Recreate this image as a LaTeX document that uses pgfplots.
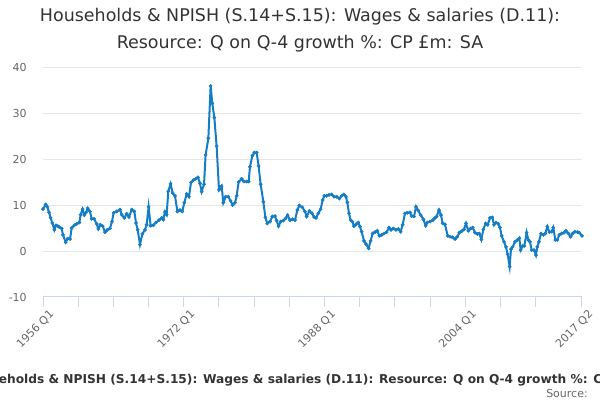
\documentclass[border=0pt]{standalone}
\usepackage{pgfplots}
\pgfplotsset{compat=1.18}
\usepackage{fontspec}
\setmainfont{DejaVu Sans}
\definecolor{line}{RGB}{20,125,196}
\definecolor{titlec}{RGB}{51,51,51}
\definecolor{tickc}{RGB}{102,102,102}
\definecolor{axisc}{RGB}{204,214,235}
\definecolor{gridc}{RGB}{230,230,230}
\begin{document}
\begin{tikzpicture}
\useasboundingbox (0,0) rectangle (450pt,300pt);
\begin{axis}[
  at={(32.25pt,77.25pt)}, anchor=south west,
  scale only axis, width=404.25pt, height=172.5pt,
  xmin=1956, xmax=2017.25, ymin=-10, ymax=40,
  axis x line*=bottom, axis y line*=left,
  x axis line style={draw=axisc, line width=0.75pt, -},
  y axis line style={draw=none},
  ytick={-10,0,10,20,30,40},
  ymajorgrids, grid style={draw=gridc, line width=0.75pt},
  xtick={1956,1960,1964,1968,1972,1976,1980,1984,1988,1992,1996,2000,2004,2008,2012,2017.25},
  xticklabels={1956 Q1,,,,1972 Q1,,,,1988 Q1,,,,2004 Q1,,,2017 Q2},
  xtick style={draw=axisc, line width=0.75pt},
  tick align=outside, major tick length=7.5pt,
  ytick style={draw=none},
  /pgf/number format/assume math mode=true,
  yticklabel style={font=\fontsize{8.25}{10}\selectfont, text=tickc, anchor=east, inner sep=0pt, xshift=-4.5pt},
  xticklabel style={font=\fontsize{8.25}{10}\selectfont, text=tickc, rotate=45, anchor=north east, inner sep=0pt, yshift=-4pt, xshift=2pt},
  clip=false,
]
\addplot[color=line, line width=1.5pt, mark=*, mark size=1.25pt, mark options={solid, fill=line, draw=line, line width=0.3pt}] coordinates {
(1956.00,9.1)(1956.30,10.1)(1956.49,9.6)(1956.68,8.4)(1956.87,7.2)(1957.06,6.1)(1957.29,4.6)(1957.48,5.6)(1957.70,5.4)(1957.86,5.2)
(1958.12,4.9)(1958.27,3.5)(1958.58,1.9)(1958.80,2.7)(1959.07,2.6)(1959.26,5.0)(1959.56,5.6)(1959.83,5.9)(1960.13,6.2)(1960.28,7.9)
(1960.50,9.1)(1960.70,7.8)(1960.90,8.4)(1961.08,9.3)(1961.34,8.6)(1961.53,7.0)(1961.80,7.0)(1962.10,5.9)(1962.29,4.8)(1962.52,5.7)
(1962.78,5.4)(1963.05,4.1)(1963.31,4.6)(1963.61,4.9)(1963.84,6.4)(1964.03,8.3)(1964.37,8.6)(1964.75,9.0)(1964.94,7.9)(1965.24,7.2)
(1965.51,8.1)(1965.77,7.4)(1966.08,9.0)(1966.38,8.6)(1966.57,6.1)(1966.76,4.6)(1967.02,1.4)(1967.29,3.7)(1967.59,4.6)(1967.78,5.7)
(1968.00,9.6)(1968.23,5.5)(1968.54,5.6)(1968.84,6.2)(1969.18,6.7)(1969.49,7.2)(1969.67,6.8)(1969.86,8.5)(1970.05,7.9)(1970.24,13.0)
(1970.50,14.6)(1970.73,12.6)(1971.00,12.0)(1971.27,8.6)(1971.57,8.9)(1971.83,8.6)(1972.06,10.5)(1972.33,12.4)(1972.59,11.8)(1972.82,14.9)
(1973.08,15.4)(1973.35,15.7)(1973.61,16.0)(1973.84,14.7)(1974.03,12.9)(1974.30,14.5)(1974.48,20.9)(1974.79,24.5)(1975.05,35.9)(1975.24,32.1)
(1975.47,29.0)(1975.73,22.8)(1976.00,13.3)(1976.30,14.1)(1976.49,10.5)(1976.76,11.8)(1977.06,11.8)(1977.32,10.9)(1977.55,10.0)(1977.82,10.5)
(1978.01,12.0)(1978.23,15.0)(1978.57,15.7)(1978.84,15.1)(1979.14,15.1)(1979.37,15.1)(1979.52,18.3)(1979.79,20.7)(1980.01,21.4)(1980.28,21.4)
(1980.50,18.5)(1980.73,14.5)(1981.04,10.7)(1981.27,7.3)(1981.49,6.0)(1981.80,6.4)(1982.06,7.5)(1982.36,7.6)(1982.55,6.6)(1982.77,5.4)
(1983.01,6.4)(1983.31,6.6)(1983.57,7.1)(1983.80,7.8)(1984.07,6.7)(1984.37,6.9)(1984.64,6.7)(1984.90,8.9)(1985.13,9.9)(1985.47,9.5)
(1985.77,8.6)(1985.96,7.5)(1986.27,8.7)(1986.57,8.2)(1986.80,7.4)(1987.02,7.2)(1987.29,8.2)(1987.55,9.1)(1987.78,11.1)(1987.97,12.0)
(1988.23,12.0)(1988.50,12.2)(1988.80,12.3)(1989.07,11.8)(1989.37,11.8)(1989.67,11.4)(1989.94,12.0)(1990.20,12.3)(1990.43,11.8)(1990.58,10.6)
(1990.77,8.2)(1990.96,6.7)(1991.15,6.4)(1991.34,5.4)(1991.57,5.8)(1991.83,6.2)(1992.02,5.3)(1992.21,4.2)(1992.48,2.2)(1992.70,1.5)
(1993.00,0.6)(1993.23,2.2)(1993.46,3.8)(1993.73,4.1)(1993.99,4.4)(1994.22,3.3)(1994.49,3.5)(1994.75,3.8)(1995.05,4.1)(1995.32,5.1)
(1995.55,4.6)(1995.81,4.9)(1996.11,4.6)(1996.38,4.8)(1996.64,4.2)(1996.87,5.7)(1997.14,8.2)(1997.40,8.3)(1997.70,8.4)(1997.89,7.6)
(1998.16,7.5)(1998.39,9.6)(1998.65,8.8)(1998.92,7.8)(1999.22,6.9)(1999.49,5.5)(1999.67,6.2)(1999.98,6.4)(2000.28,6.7)(2000.55,7.2)
(2000.73,7.5)(2001.00,8.9)(2001.23,7.8)(2001.42,6.0)(2001.68,5.8)(2001.99,3.3)(2002.25,3.1)(2002.52,3.0)(2002.82,2.6)(2003.08,3.1)
(2003.31,4.0)(2003.58,4.3)(2003.84,4.7)(2004.07,6.0)(2004.33,4.4)(2004.60,4.9)(2004.83,5.1)(2005.09,4.0)(2005.36,3.7)(2005.58,3.8)
(2005.81,2.5)(2006.04,4.7)(2006.30,6.0)(2006.53,5.7)(2006.80,7.2)(2007.06,7.3)(2007.25,5.7)(2007.48,6.2)(2007.74,5.9)(2007.93,5.1)
(2008.12,3.3)(2008.39,2.0)(2008.61,0.9)(2008.80,-0.7)(2009.03,-3.4)(2009.18,0.4)(2009.37,0.9)(2009.64,2.0)(2009.90,2.4)(2010.13,2.8)
(2010.28,0.2)(2010.51,1.1)(2010.70,1.1)(2010.96,4.0)(2011.15,2.4)(2011.34,2.0)(2011.53,0.2)(2011.80,0.2)(2012.02,-0.9)(2012.17,0.9)
(2012.36,2.0)(2012.59,3.8)(2012.86,3.5)(2013.08,3.8)(2013.31,5.3)(2013.54,4.1)(2013.80,4.2)(2013.99,5.1)(2014.22,2.4)(2014.44,2.4)
(2014.67,3.5)(2014.94,3.8)(2015.20,4.0)(2015.43,4.4)(2015.70,3.8)(2015.96,3.1)(2016.19,3.8)(2016.45,4.2)(2016.74,4.1)(2016.94,4.0)
(2017.25,3.3)
};
\end{axis}
\node[text=titlec, align=center, font=\fontsize{13.1}{20}\selectfont] at (225pt,277.5pt)
  {Households \& NPISH (S.14+S.15): Wages \& salaries (D.11):\\Resource: Q on Q-4 growth \%: CP £m: SA};
\node[text=titlec, anchor=west, inner sep=0pt, font=\bfseries\fontsize{9.15}{11}\selectfont] at (-27pt,15pt)
  {Households \& NPISH (S.14+S.15): Wages \& salaries (D.11): Resource: Q on Q-4 growth \%: CP £m: SA};
\node[text=tickc, anchor=east, inner sep=0pt, font=\fontsize{8.25}{10}\selectfont] at (441pt,5.25pt) {Source:};
\end{tikzpicture}
\end{document}
